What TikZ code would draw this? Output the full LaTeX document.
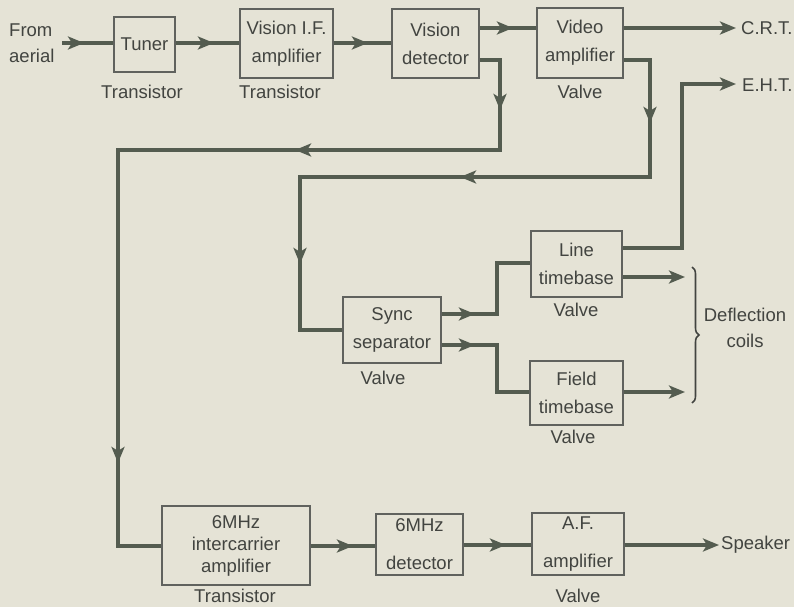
\documentclass[tikz,border=0pt]{standalone}
\usepackage{fontspec}
\setmainfont{Liberation Sans}
\usetikzlibrary{arrows.meta,decorations.markings,decorations.pathreplacing}
\definecolor{paper}{RGB}{229,227,214}
\definecolor{ink}{RGB}{66,68,64}
\definecolor{wire}{RGB}{84,92,80}
\definecolor{boxline}{RGB}{96,98,94}
\tikzset{
  blk/.style={draw=boxline,line width=1.8pt,inner sep=0pt,align=center,text=ink,font=\fontsize{18.5}{22}\selectfont},
  lbl/.style={inner sep=0pt,text=ink,font=\fontsize{18.5}{22}\selectfont},
  conn/.style={draw=wire,line width=3.4pt,line join=miter},
  tipend/.style={-{Stealth[length=16pt,width=13pt,inset=4pt]}},
  arrowat/.style={postaction={decorate,decoration={markings,mark=at position #1 with {\arrow{Stealth[length=16pt,width=13pt,inset=4pt]}}}}}
}
\begin{document}
\begin{tikzpicture}[x=1pt,y=-1pt]
\fill[paper] (0,0) rectangle (794,607);
\useasboundingbox (0,0) rectangle (794,607);
% blocks
\node[blk,minimum width=61pt,minimum height=55pt] (tuner) at (144.5,44.5) {Tuner};
\node[blk,minimum width=93pt,minimum height=69pt] (visif) at (286.5,43.5) {Vision I.F.\\[6pt]amplifier};
\node[blk,minimum width=87pt,minimum height=69pt] (visdet) at (435.5,43.5) {Vision\\[6pt]detector};
\node[blk,minimum width=86pt,minimum height=70pt] (vidamp) at (580,43) {Video\\[6pt]amplifier};
\node[blk,minimum width=98pt,minimum height=66pt] (sync) at (392,330) {Sync\\[6pt]separator};
\node[blk,minimum width=91pt,minimum height=66pt] (line) at (576.5,264) {Line\\[6pt]timebase};
\node[blk,minimum width=93pt,minimum height=64pt] (field) at (576.5,393) {Field\\[6pt]timebase};
\node[blk,minimum width=148pt,minimum height=79pt] (inter) at (236,545.5) {6MHz\\intercarrier\\amplifier};
\node[blk,minimum width=87pt,minimum height=61pt] (det) at (419.5,544.5) {6MHz\\[16pt]detector};
\node[blk,minimum width=92pt,minimum height=62pt] (af) at (578,544) {A.F.\\[16pt]amplifier};
% labels
\node[lbl,align=left,anchor=west] (aerial) at (9,43) {From\\[4pt]aerial};
\node[lbl] (t1) at (142,92) {Transistor};
\node[lbl] (t2) at (280,92) {Transistor};
\node[lbl] (v1) at (580,92) {Valve};
\node[lbl,anchor=west] (crt) at (741,28) {C.R.T.};
\node[lbl,anchor=west] (eht) at (742,85) {E.H.T.};
\node[lbl] (v2) at (383,378) {Valve};
\node[lbl] (v3) at (576,310) {Valve};
\node[lbl] (v4) at (573,437) {Valve};
\node[lbl,align=center] (defl) at (745,328) {Deflection\\[4pt]coils};
\node[lbl] (t3) at (235,596) {Transistor};
\node[lbl] (v5) at (578,596) {Valve};
\node[lbl,anchor=west] (spk) at (721,545) {Speaker};
% coordinates
\coordinate (aerialend) at (62,43);
\coordinate (crtend) at (736,28);
\coordinate (ehtend) at (736,84);
\coordinate (dlineend) at (685,277);
\coordinate (dfieldend) at (685,392);
\coordinate (spkend) at (719,545);
% top chain
\draw[conn,arrowat=22pt] (aerialend) -- (tuner.west |- aerialend);
\draw[conn,arrowat=38pt] (tuner.east |- 0,43) -- (visif.west |- 0,43);
\draw[conn,arrowat=34pt] (visif.east |- 0,43) -- (visdet.west |- 0,43);
\draw[conn,arrowat=33pt] (visdet.east |- 0,28) -- (vidamp.west |- 0,28);
\draw[conn,tipend] (vidamp.east |- crtend) -- (crtend);
% vision detector to sound
\draw[conn,arrowat=70pt,arrowat=315pt,arrowat=805pt]
  (visdet.east |- 0,60) -- (500,60) -- (500,150) -- (118,150) -- (118,546) -- (inter.west |- 0,546);
% video amp to sync
\draw[conn,arrowat=89pt,arrowat=333pt,arrowat=580pt]
  (vidamp.east |- 0,60) -- (650,60) -- (650,177) -- (300,177) -- (300,330) -- (sync.west);
% sync to timebases
\draw[conn,arrowat=33pt] (sync.east |- 0,314) -- (497,314) -- (497,263) -- (line.west |- 0,263);
\draw[conn,arrowat=33pt] (sync.east |- 0,345) -- (497,345) -- (497,392) -- (field.west |- 0,392);
% line timebase outputs
\draw[conn,tipend] (line.east |- 0,248) -- (682,248) -- (682,84) -- (ehtend);
\draw[conn,tipend] (line.east |- dlineend) -- (dlineend);
\draw[conn,tipend] (field.east |- dfieldend) -- (dfieldend);
% sound chain
\draw[conn,arrowat=42pt] (inter.east |- 0,546) -- (det.west |- 0,546);
\draw[conn,arrowat=42pt] (det.east |- 0,545) -- (af.west |- 0,545);
\draw[conn,tipend] (af.east |- spkend) -- (spkend);
% brace
\draw[draw=ink,line width=1.6pt,decorate,decoration={brace,amplitude=7pt}] (692,267) -- (692,403);
\end{tikzpicture}
\end{document}
